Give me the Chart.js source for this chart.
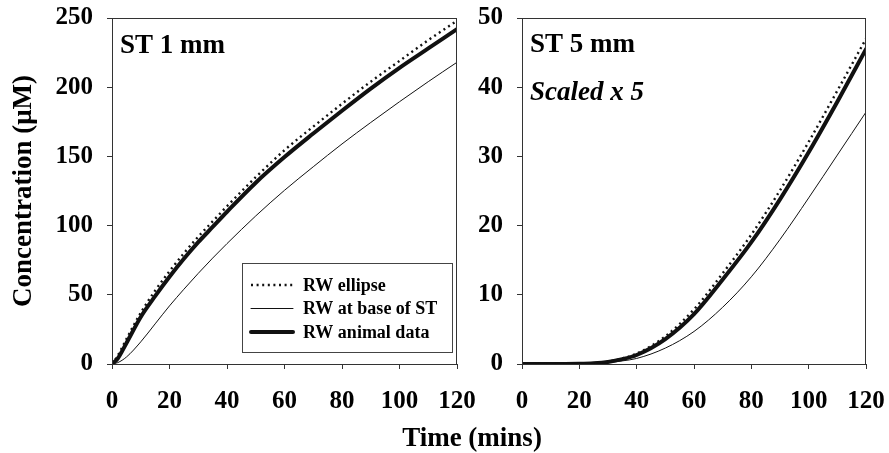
<!DOCTYPE html>
<html>
<head>
<meta charset="utf-8">
<script src="https://cdn.jsdelivr.net/npm/chart.js@4.4.0/dist/chart.umd.min.js"></script>
<style>
  body { margin: 0; background: #fff; }
  #wrap { position: relative; width: 889px; height: 453px; overflow: hidden; }
  #left { position: absolute; left: 0; top: 0; }
  #right { position: absolute; left: 470px; top: 0; }
  #xtitle {
    position: absolute; left: 372px; width: 200px; top: 422px;
    text-align: center; line-height: 30px; color: #000;
    font: bold 27px "Liberation Serif", "Times New Roman", serif;
  }
</style>
</head>
<body>
<div id="wrap">
  <canvas id="left" width="490" height="453"></canvas>
  <canvas id="right" width="419" height="453"></canvas>
  <div id="xtitle">Time (mins)</div>
</div>
<script>
// time points (mins)
const times = [0, 2, 5, 10, 15, 20, 25, 30, 35, 40, 50, 60, 70, 80, 90, 100, 110, 120];
const seriesLabels = ['RW ellipse', 'RW at base of ST', 'RW animal data'];

// ST 1 mm panel (uM)
const st1Ellipse = [0, 6, 18, 37, 53, 67, 80, 92, 103, 114, 135, 154.5, 171.5, 188, 204, 219, 234, 248];
const st1Base    = [0, 1, 5, 16, 29, 42, 54, 65.5, 76.5, 87, 107, 125.5, 142.5, 159, 174.5, 189.5, 204, 218];
const st1Animal  = [0, 4, 15, 34, 49, 63, 76, 88, 99, 110, 131, 149.5, 166.5, 183, 199, 214, 228, 242];

// ST 5 mm panel (uM, scaled x 5)
const st5Ellipse = [0, 0, 0, 0, 0, 0.02, 0.12, 0.35, 0.8, 1.5, 4.0, 7.9, 13.1, 18.7, 25.1, 32.1, 39.5, 47];
const st5Base    = [0, 0, 0, 0, 0, 0.01, 0.06, 0.2, 0.45, 0.8, 2.3, 4.7, 8.2, 12.6, 18.0, 24.0, 30.2, 36.4];
const st5Animal  = [0, 0, 0, 0, 0, 0.02, 0.1, 0.3, 0.7, 1.3, 3.6, 7.2, 12.2, 17.6, 23.8, 30.6, 37.9, 45.5];

const xTicks = [0, 20, 40, 60, 80, 100, 120];
const yTicksLeft = [0, 50, 100, 150, 200, 250];
const yTicksRight = [0, 10, 20, 30, 40, 50];

const FONT = '"Liberation Serif", "Times New Roman", serif';
const INK = '#111';

const styles = [
  { borderWidth: 2.4, borderDash: [2, 3.6], borderCapStyle: 'butt' },
  { borderWidth: 1, borderDash: [] },
  { borderWidth: 4, borderDash: [] }
];

function makeDatasets(lists) {
  return lists.map((vals, i) => ({
    label: seriesLabels[i],
    data: times.map((t, j) => ({ x: t, y: vals[j] })),
    borderColor: INK,
    borderWidth: styles[i].borderWidth,
    borderDash: styles[i].borderDash,
    borderCapStyle: styles[i].borderCapStyle || 'round',
    pointRadius: 0,
    fill: false,
    cubicInterpolationMode: 'monotone'
  }));
}

const framePlugin = {
  id: 'frame',
  afterDraw(chart) {
    const { ctx, chartArea: a } = chart;
    ctx.save();
    ctx.strokeStyle = '#333';
    ctx.lineWidth = 1;
    ctx.strokeRect(a.left + 0.5, a.top + 0.5, a.right - a.left - 1, a.bottom - a.top);
    ctx.restore();
  }
};

const panelTextPlugin = {
  id: 'panelText',
  afterDraw(chart, args, opts) {
    const { ctx, chartArea: a } = chart;
    ctx.save();
    ctx.fillStyle = '#000';
    ctx.textBaseline = 'middle';
    ctx.textAlign = 'left';
    (opts.items || []).forEach(it => {
      ctx.font = it.font;
      ctx.fillText(it.text, a.left + 8, a.top + it.dy);
    });
    ctx.restore();
  }
};

const boxLegendPlugin = {
  id: 'boxLegend',
  afterDraw(chart, args, opts) {
    if (!opts.show) return;
    const { ctx, chartArea: a } = chart;
    const w = 210, h = 89;
    const left = a.right - 5 - w, top = a.bottom - 12 - h;
    ctx.save();
    ctx.fillStyle = '#fff';
    ctx.fillRect(left, top, w, h);
    ctx.strokeStyle = '#444';
    ctx.lineWidth = 1;
    ctx.strokeRect(left + 0.5, top + 0.5, w, h);
    ctx.font = 'bold 18px ' + FONT;
    ctx.textBaseline = 'middle';
    chart.data.datasets.forEach((ds, i) => {
      const y = top + 22 + i * 23.5;
      ctx.strokeStyle = INK;
      ctx.lineWidth = ds.borderWidth;
      ctx.setLineDash(ds.borderDash || []);
      ctx.lineCap = ds.borderCapStyle;
      ctx.beginPath();
      ctx.moveTo(left + 9, y);
      ctx.lineTo(left + 51, y);
      ctx.stroke();
      ctx.setLineDash([]);
      ctx.fillStyle = '#000';
      ctx.fillText(ds.label, left + 61, y + 1);
    });
    ctx.restore();
  }
};

function makeChart(id, lists, yMax, yTicks, opts) {
  return new Chart(document.getElementById(id), {
    type: 'line',
    data: { datasets: makeDatasets(lists) },
    plugins: [framePlugin, panelTextPlugin, boxLegendPlugin],
    options: {
      responsive: false,
      animation: false,
      devicePixelRatio: 1,
      layout: { padding: { top: 18, right: opts.padRight, left: 0, bottom: 0 } },
      plugins: {
        legend: { display: false },
        tooltip: { enabled: false },
        panelText: { items: opts.texts },
        boxLegend: { show: opts.legend }
      },
      scales: {
        x: {
          type: 'linear', min: 0, max: 120,
          afterBuildTicks: s => { s.ticks = xTicks.map(v => ({ value: v })); },
          afterFit: s => { s.height = 89; s.paddingLeft = 0; s.paddingRight = 0; },
          border: { display: false },
          grid: { drawOnChartArea: false, tickLength: 5, color: '#333' },
          ticks: { color: '#000', padding: 18, maxRotation: 0, font: { family: FONT, size: 25, weight: 'bold' } }
        },
        y: {
          min: 0, max: yMax,
          afterBuildTicks: s => { s.ticks = yTicks.map(v => ({ value: v })); },
          afterFit: s => { s.width = opts.yWidth; s.paddingTop = 0; s.paddingBottom = 0; },
          border: { display: false },
          grid: { drawOnChartArea: false, tickLength: 5, color: '#333' },
          ticks: { color: '#000', padding: 14, font: { family: FONT, size: 25, weight: 'bold' } },
          title: {
            display: opts.yTitle !== '',
            text: opts.yTitle,
            color: '#000',
            padding: { top: 8, bottom: 0 },
            font: { family: FONT, size: 27, weight: 'bold' }
          }
        }
      }
    }
  });
}

makeChart('left', [st1Ellipse, st1Base, st1Animal], 250, yTicksLeft, {
  padRight: 33, yWidth: 112, yTitle: 'Concentration (\u03BCM)', legend: true,
  texts: [{ text: 'ST 1 mm', font: 'bold 27px ' + FONT, dy: 28 }]
});

makeChart('right', [st5Ellipse, st5Base, st5Animal], 50, yTicksRight, {
  padRight: 23, yWidth: 52, yTitle: '', legend: false,
  texts: [
    { text: 'ST 5 mm', font: 'bold 27px ' + FONT, dy: 27 },
    { text: 'Scaled x 5', font: 'italic bold 27px ' + FONT, dy: 75 }
  ]
});
</script>
</body>
</html>
